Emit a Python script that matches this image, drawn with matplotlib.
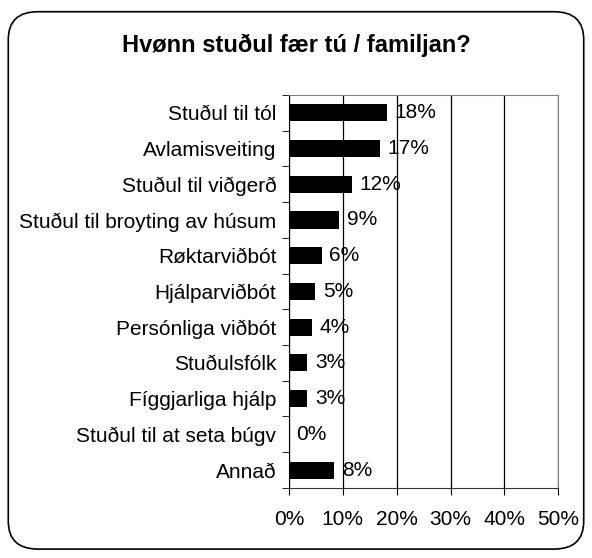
import numpy as np
import matplotlib.pyplot as plt
from matplotlib.patches import FancyBboxPatch
from matplotlib.ticker import FixedLocator

plt.rcParams['font.family'] = ['Liberation Sans', 'DejaVu Sans']

categories = ['Stuðul til tól', 'Avlamisveiting', 'Stuðul til viðgerð',
              'Stuðul til broyting av húsum', 'Røktarviðbót', 'Hjálparviðbót',
              'Persónliga viðbót', 'Stuðulsfólk', 'Fíggjarliga hjálp',
              'Stuðul til at seta búgv', 'Annað']
values = [18.2, 16.9, 11.7, 9.3, 6.1, 4.9, 4.3, 3.4, 3.4, 0.0, 8.4]
labels = ['18%', '17%', '12%', '9%', '6%', '5%', '4%', '3%', '3%', '0%', '8%']
xticks = [0, 10, 20, 30, 40, 50]

fs = 15
fig = plt.figure(figsize=(5.92, 5.58), dpi=100)
fig.patches.append(FancyBboxPatch((0.014, 0.016), 0.972, 0.963,
                                  boxstyle='round,pad=0,rounding_size=0.05',
                                  transform=fig.transFigure, fill=False,
                                  edgecolor='black', linewidth=1.2))
fig.text(0.5, 0.918, 'Hvønn stuðul fær tú / familjan?', ha='center', va='center',
         fontsize=17, fontweight='bold')

ax = fig.add_axes([0.488, 0.1255, 0.455, 0.7045])
y = np.arange(len(categories))
ax.barh(y, values, height=0.48, color='black', zorder=3)
for yi, v, lab in zip(y, values, labels):
    ax.annotate(lab, (v, yi), xytext=(5.5, 0), textcoords='offset points',
                va='center', ha='left', fontsize=fs, zorder=4)

ax.set_xlim(0, 50)
ax.set_ylim(len(categories) - 0.5, -0.5)
ax.set_xticks(xticks)
ax.set_xticklabels([f'{t}%' for t in xticks], fontsize=fs)
ax.set_yticks(y)
ax.set_yticklabels(categories, fontsize=fs)
ax.yaxis.set_minor_locator(FixedLocator(np.arange(-0.5, len(categories), 1)))
ax.tick_params(axis='y', which='major', length=0, pad=9)
ax.tick_params(axis='y', which='minor', length=5, direction='out')
ax.tick_params(axis='x', length=5, direction='out', pad=11)
ax.grid(axis='x', color='black', linewidth=0.9, zorder=1)
for s in ['top', 'right']:
    ax.spines[s].set_color('#808080')
ax.spines['left'].set_color('black')
ax.spines['bottom'].set_color('#333333')

fig.savefig('out.png', dpi=100)
